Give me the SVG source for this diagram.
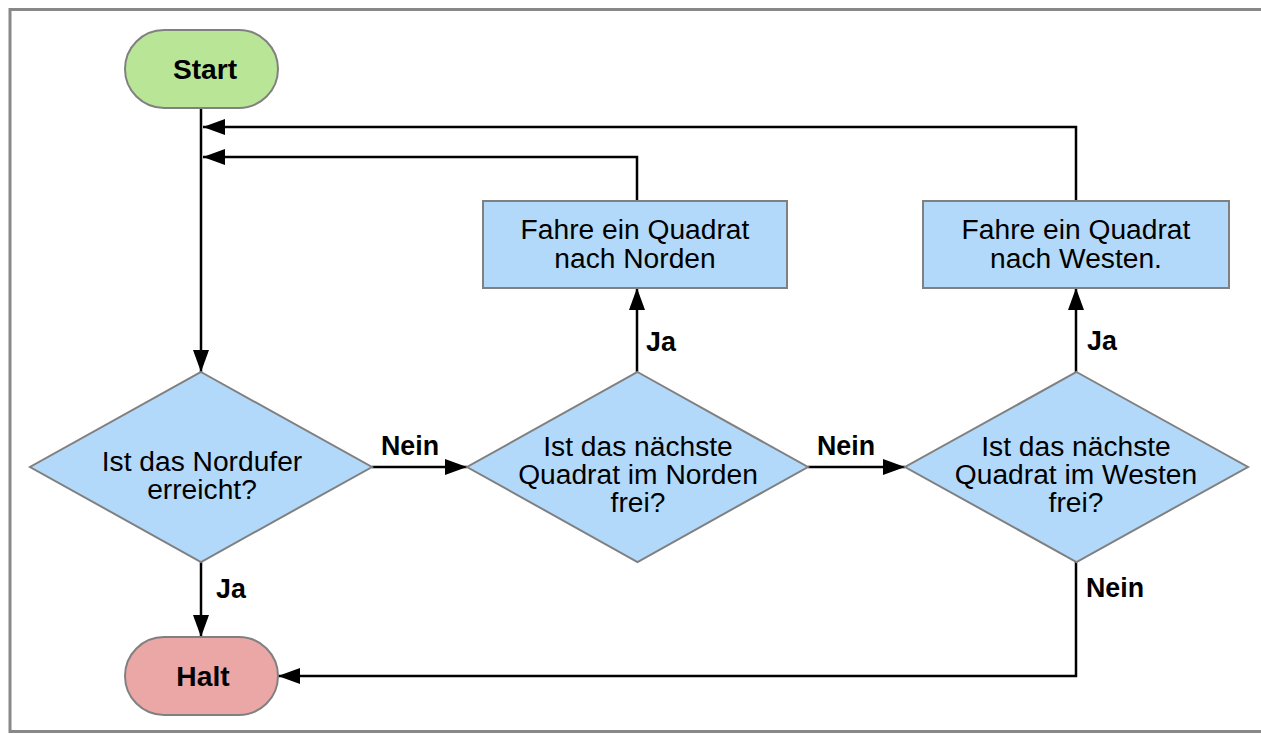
<svg xmlns="http://www.w3.org/2000/svg" width="1261" height="734" viewBox="0 0 1261 734">
<style>
.frame{fill:#fff;stroke:#888;stroke-width:3}
.term{stroke:#808080;stroke-width:2}
.start{fill:#b9e597}
.halt{fill:#eba6a6}
.proc{fill:#b3d9fa;stroke:#808080;stroke-width:2}
.t{font-family:"Liberation Sans",Arial,sans-serif;font-size:28.2px;fill:#000;text-anchor:middle}
.b{font-weight:bold}
.lbl{font-family:"Liberation Sans",Arial,sans-serif;font-size:26.8px;font-weight:bold;fill:#000}
.c{fill:none;stroke:#000;stroke-width:2.5}
</style>
<defs>
<marker id="ah" markerUnits="userSpaceOnUse" markerWidth="24" markerHeight="18" refX="22" refY="8" orient="auto">
<path d="M0,0 L22,8 L0,16 z" fill="#000"/>
</marker>
</defs>
<rect class="frame" x="10" y="9.5" width="1300" height="722"/>
<g id="connectors">
<path class="c" d="M201,108 V372" marker-end="url(#ah)"/>
<path class="c" d="M637,201 V157 H203" marker-end="url(#ah)"/>
<path class="c" d="M1076,201 V127 H203" marker-end="url(#ah)"/>
<path class="c" d="M372,467 H467" marker-end="url(#ah)"/>
<path class="c" d="M808,467 H905" marker-end="url(#ah)"/>
<path class="c" d="M637,372 V288" marker-end="url(#ah)"/>
<path class="c" d="M1076,372 V288" marker-end="url(#ah)"/>
<path class="c" d="M201,562 V637" marker-end="url(#ah)"/>
<path class="c" d="M1076,562 V676 H278" marker-end="url(#ah)"/>
<text class="lbl" x="381" y="455">Nein</text>
<text class="lbl" x="817" y="455">Nein</text>
<text class="lbl" x="646" y="351">Ja</text>
<text class="lbl" x="1087" y="350">Ja</text>
<text class="lbl" x="216" y="598">Ja</text>
<text class="lbl" x="1086" y="597">Nein</text>
</g>
<g id="start">
<rect class="term start" x="125" y="30" width="153" height="78" rx="39"/>
<text class="t b" x="205" y="79">Start</text>
</g>
<g id="halt">
<rect class="term halt" x="125" y="637" width="153" height="78" rx="39"/>
<text class="t b" x="203" y="686">Halt</text>
</g>
<g id="d1">
<polygon class="proc" points="201,372 372,467 201,562 30,467"/>
<text class="t" x="202" y="471">Ist das Nordufer</text>
<text class="t" x="202" y="499">erreicht?</text>
</g>
<g id="d2">
<polygon class="proc" points="637.5,372 808,467 637.5,562 467,467"/>
<text class="t" x="638" y="456">Ist das nächste</text>
<text class="t" x="638" y="484">Quadrat im Norden</text>
<text class="t" x="638" y="512">frei?</text>
</g>
<g id="d3">
<polygon class="proc" points="1076.5,372 1248,467 1076.5,562 905,467"/>
<text class="t" x="1076" y="456">Ist das nächste</text>
<text class="t" x="1076" y="484">Quadrat im Westen</text>
<text class="t" x="1076" y="512">frei?</text>
</g>
<g id="b1">
<rect class="proc" x="483" y="201" width="304" height="87"/>
<text class="t" x="635" y="239">Fahre ein Quadrat</text>
<text class="t" x="635" y="268">nach Norden</text>
</g>
<g id="b2">
<rect class="proc" x="923" y="201" width="306" height="87"/>
<text class="t" x="1076" y="239">Fahre ein Quadrat</text>
<text class="t" x="1076" y="268">nach Westen.</text>
</g>
</svg>
